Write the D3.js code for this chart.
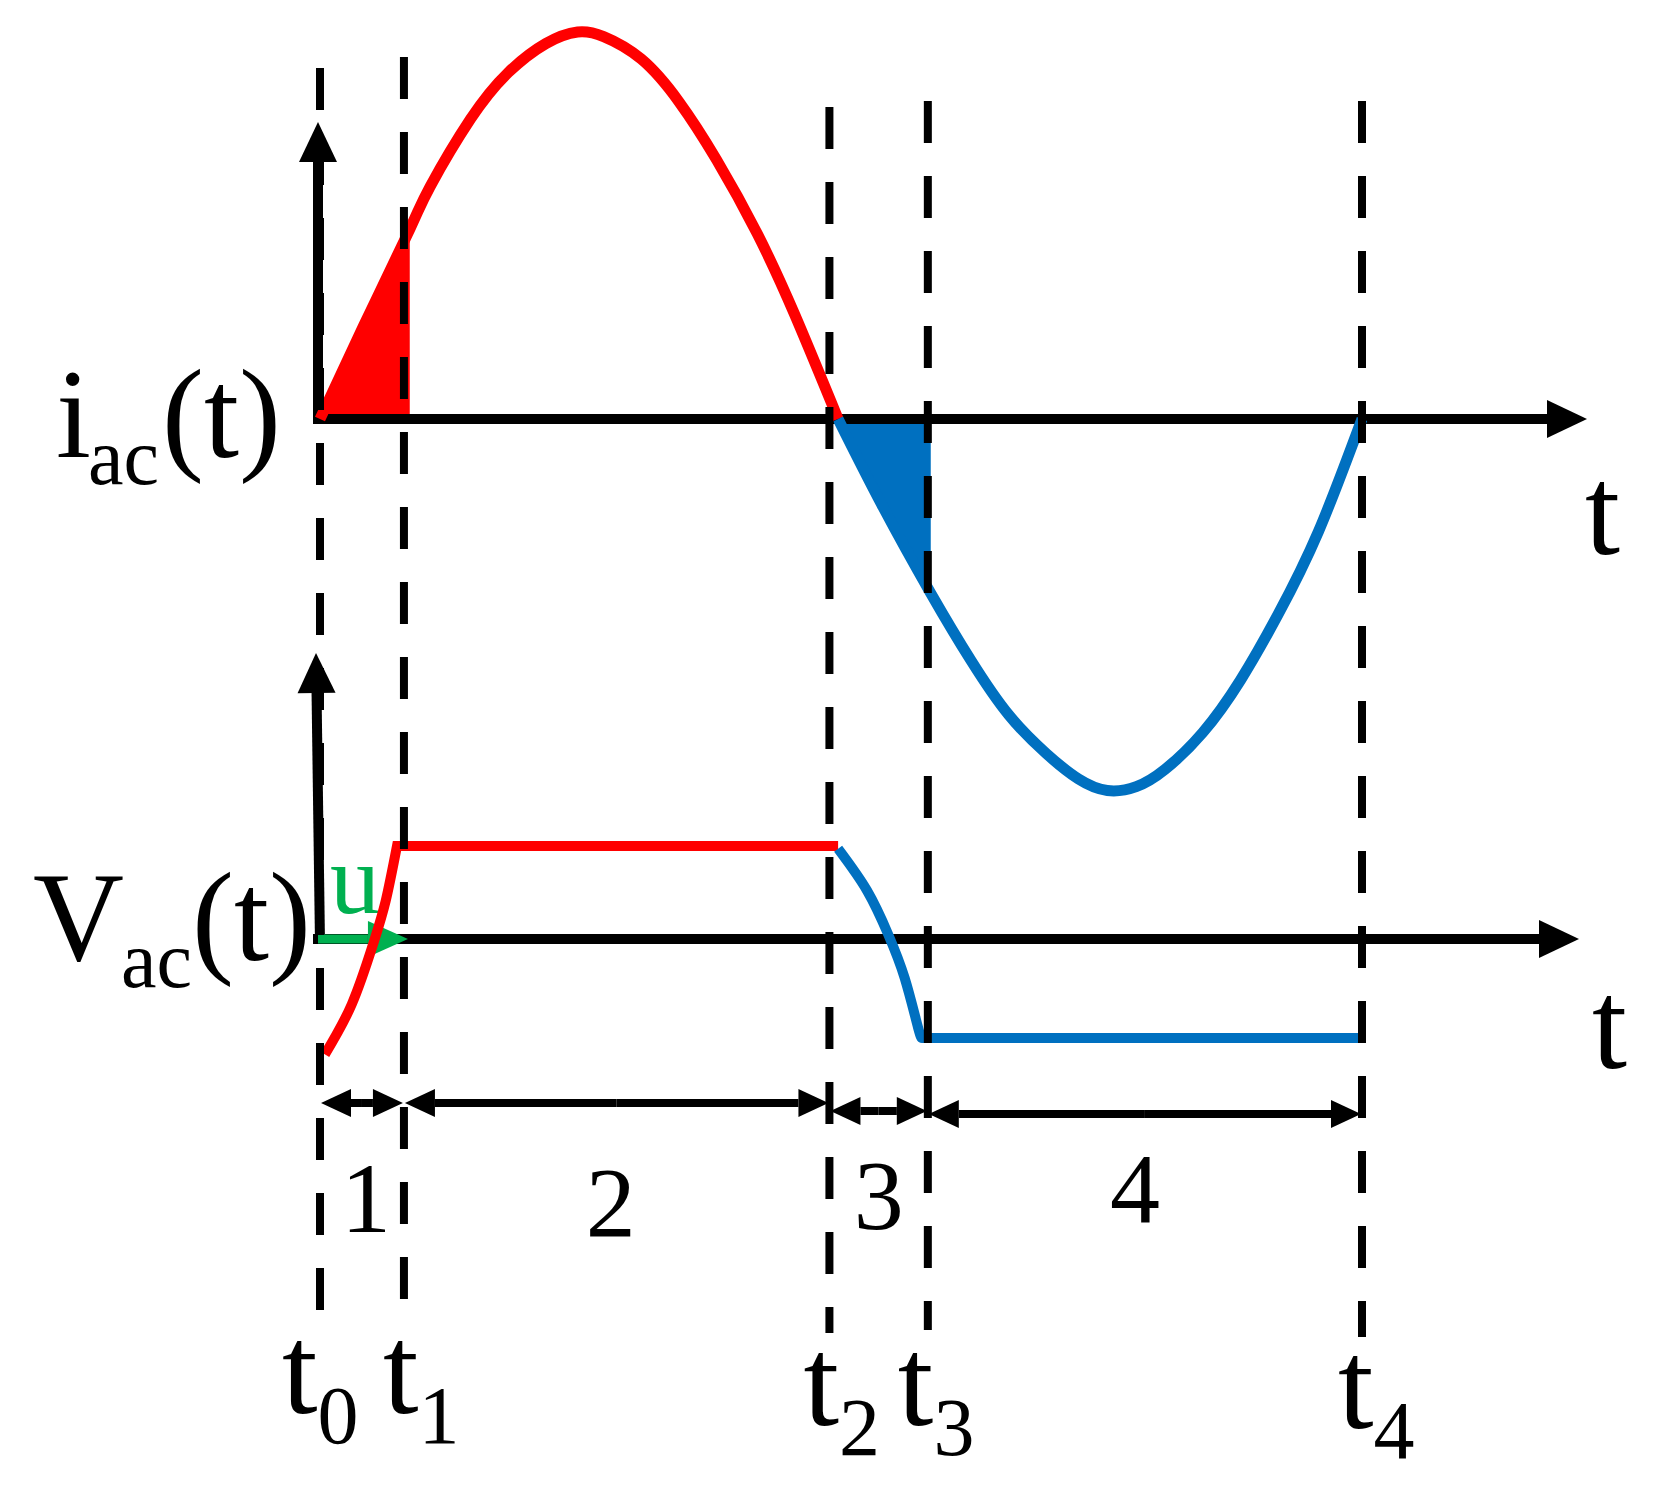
<!DOCTYPE html>
<html>
<head>
<meta charset="utf-8">
<script src="https://cdn.jsdelivr.net/npm/d3@7"></script>
<style>
  html, body { margin: 0; padding: 0; background: #fff; }
  svg { display: block; }
  text { font-family: "Liberation Serif", "Times New Roman", serif; fill: #000; }
</style>
</head>
<body>
<div id="chart"></div>
<script>
// switching instants t0..t4, as phase of the ac period (degrees)
const markerNames = ["0", "1", "2", "3", "4"];
const markerPhase = [0, 29, 176, 210, 360];

// interval numbers written between the instants
const intervalLabels = ["1", "2", "3", "4"];

// ac current, [phase, value] (peak = 1)
const iacPositive = [
  [0, 0], [15, 0.24], [31, 0.49], [38, 0.60], [52, 0.775], [65, 0.895],
  [78, 0.97], [89, 1.0], [98, 0.988], [111, 0.93], [124, 0.82],
  [137, 0.67], [151, 0.48], [164, 0.27], [179, 0]
];
const iacNegative = [
  [179, 0], [194, -0.22], [211, -0.45], [225, -0.625], [238, -0.765],
  [251, -0.865], [262, -0.93], [272, -0.96], [282, -0.95], [292, -0.905],
  [305, -0.81], [318, -0.675], [331, -0.505], [345, -0.29], [360, 0]
];

// phase where the shaded areas under the current stop
const redShadeEnd = 31;
const blueShadeEnd = 211;

// ac voltage, [phase, value] (high level = 1)
const vacRise = [[1.7, -1.24], [11, -0.70], [18.4, -0.05], [22.7, 0.41], [26.6, 1.0]];
const vacHigh = [[26.6, 1.0], [179, 1.0]];
const vacFall = [[179, 0.97], [189, 0.52], [196.3, 0.05], [202, -0.42], [206.6, -0.95], [208, -1.065]];
const vacLow = [[208, -1.065], [360, -1.065]];

const width = 1664;
const height = 1508;

const RED = "#ff0000";
const BLUE = "#0070c0";
const GREEN = "#00b050";

const svg = d3
  .select("#chart")
  .append("svg")
  .attr("width", width)
  .attr("height", height);

svg.append("rect").attr("width", width).attr("height", height).attr("fill", "#fff");

// scales
const x = d3.scaleLinear().domain([0, 360]).range([320, 1362]);
const yI = d3.scaleLinear().domain([-1, 1]).range([806, 32]);
const yV = d3.scaleLinear().domain([-1, 1]).range([1032, 846]);

const layers = {
  fill: svg.append("g"),
  axes: svg.append("g"),
  curves: svg.append("g"),
  guides: svg.append("g"),
  text: svg.append("g")
};

// straight line with a filled arrow head at (x2, y2)
function arrow(g, x1, y1, x2, y2, color, w, headLen, headHalf) {
  const a = Math.atan2(y2 - y1, x2 - x1);
  const bx = x2 - headLen * Math.cos(a);
  const by = y2 - headLen * Math.sin(a);
  g.append("line")
    .attr("x1", x1).attr("y1", y1)
    .attr("x2", bx).attr("y2", by)
    .attr("stroke", color)
    .attr("stroke-width", w);
  g.append("path")
    .attr("d", `M${x2},${y2}L${bx - headHalf * Math.sin(a)},${by + headHalf * Math.cos(a)}L${bx + headHalf * Math.sin(a)},${by - headHalf * Math.cos(a)}Z`)
    .attr("fill", color);
}

// shaded areas under the current
const fillArea = (yScale) =>
  d3.area().x((d) => x(d[0])).y0(yScale(0)).y1((d) => yScale(d[1]));

layers.fill.append("path")
  .attr("d", fillArea(yI)(iacPositive.filter((d) => d[0] <= redShadeEnd)))
  .attr("fill", RED);
layers.fill.append("path")
  .attr("d", fillArea(yI)(iacNegative.filter((d) => d[0] <= blueShadeEnd)))
  .attr("fill", BLUE);

// axes (no ticks)
const axisW = 10;
arrow(layers.axes, 318, yI(0) + 5, 318, 122, "#000", axisW, 40, 19);
arrow(layers.axes, 313, yI(0), 1587, yI(0), "#000", axisW, 40, 19);
arrow(layers.axes, 320, yV(0) + 5, 316, 653, "#000", axisW, 40, 19);
arrow(layers.axes, 313, yV(0), 1579, yV(0), "#000", axisW, 40, 19);

// current waveform
const curveLine = (yScale) =>
  d3.line().x((d) => x(d[0])).y((d) => yScale(d[1])).curve(d3.curveNatural);
const flatLine = (yScale) =>
  d3.line().x((d) => x(d[0])).y((d) => yScale(d[1]));

layers.curves.append("path")
  .attr("d", curveLine(yI)(iacPositive))
  .attr("fill", "none").attr("stroke", RED).attr("stroke-width", 11);
layers.curves.append("path")
  .attr("d", curveLine(yI)(iacNegative))
  .attr("fill", "none").attr("stroke", BLUE).attr("stroke-width", 11);

// green arrow along the lower axis, with its label
arrow(layers.curves, 318, yV(0), x(markerPhase[1]) + 4, yV(0), GREEN, 9, 40, 18);
layers.curves.append("text")
  .attr("x", 330).attr("y", 913)
  .attr("font-size", 100)
  .style("fill", GREEN)
  .text("u");

// voltage waveform: curved ramp joined to the flat level in one path
layers.curves.append("path")
  .attr("d", curveLine(yV)(vacRise) + flatLine(yV)(vacHigh).replace(/^M/, "L"))
  .attr("fill", "none").attr("stroke", RED).attr("stroke-width", 10)
  .attr("stroke-linejoin", "miter");
layers.curves.append("path")
  .attr("d", curveLine(yV)(vacFall) + flatLine(yV)(vacLow).replace(/^M/, "L"))
  .attr("fill", "none").attr("stroke", BLUE).attr("stroke-width", 10)
  .attr("stroke-linejoin", "miter");

// dashed guide lines at each instant
const guideTop = [68, 57, 107, 101, 101];
const guideBottom = [1320, 1305, 1333, 1330, 1337];
markerPhase.forEach((p, i) => {
  layers.guides.append("line")
    .attr("x1", x(p)).attr("x2", x(p))
    .attr("y1", guideTop[i]).attr("y2", guideBottom[i])
    .attr("stroke", "#000")
    .attr("stroke-width", 8)
    .attr("stroke-dasharray", "42,33");
});

// interval arrows and numbers
const intervalY = [1103, 1103, 1111, 1114];
const intervalTextY = [1232, 1236, 1229, 1222];
const intervalNudge = [4, -6, 0, -10];
intervalLabels.forEach((lab, i) => {
  const xa = x(markerPhase[i]) + 1;
  const xb = x(markerPhase[i + 1]) - 1;
  const mid = (xa + xb) / 2;
  const y = intervalY[i];
  arrow(layers.guides, mid, y, xb, y, "#000", 8, 30, 14);
  arrow(layers.guides, mid, y, xa, y, "#000", 8, 30, 14);
  layers.text.append("text")
    .attr("x", mid + intervalNudge[i])
    .attr("y", intervalTextY[i])
    .attr("text-anchor", "middle")
    .attr("font-size", 100)
    .text(lab);
});

// t0..t4 labels under the guides
const tLabelDx = [-38, -21, -26, -30, -24];
const tLabelY = [1413, 1413, 1425, 1425, 1428];
markerNames.forEach((n, i) => {
  const t = layers.text.append("text")
    .attr("x", x(markerPhase[i]) + tLabelDx[i])
    .attr("y", tLabelY[i])
    .attr("font-size", 128);
  t.append("tspan").text("t");
  t.append("tspan").attr("font-size", 82).attr("dy", 30).text(n);
});

// axis names
function subLabel(xMain, xSub, xRest, y, main, sub) {
  const t = layers.text.append("text").attr("y", y).attr("font-size", 126);
  t.append("tspan").attr("x", xMain).text(main);
  t.append("tspan").attr("x", xSub).attr("dy", 27).attr("font-size", 80).text(sub);
  t.append("tspan").attr("x", xRest).attr("dy", -27).text("(t)");
}
subLabel(56, 88, 162, 457, "i", "ac");
subLabel(33, 121, 192, 960, "V", "ac");

layers.text.append("text")
  .attr("x", 1585).attr("y", 554)
  .attr("font-size", 126)
  .text("t");
layers.text.append("text")
  .attr("x", 1592).attr("y", 1068)
  .attr("font-size", 126)
  .text("t");
</script>
</body>
</html>
